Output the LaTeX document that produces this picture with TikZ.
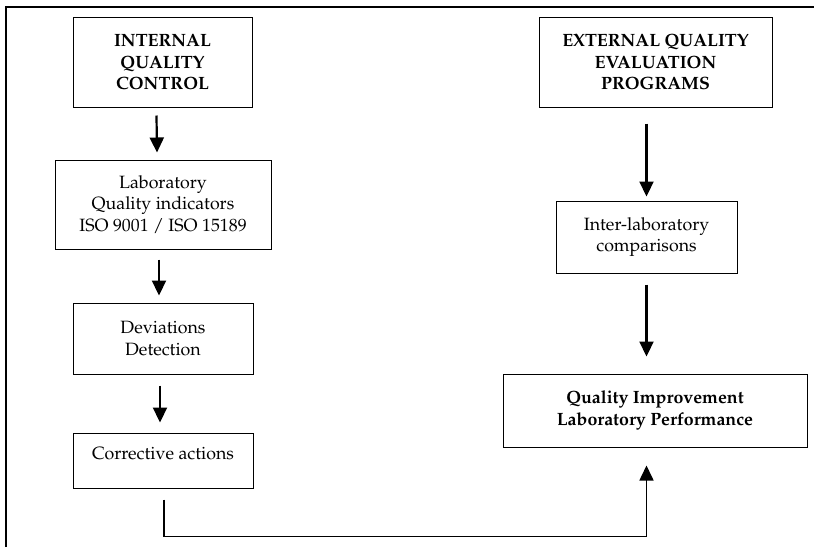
\documentclass[tikz,border=0pt]{standalone}
\usepackage[T1]{fontenc}
\usepackage{mathpazo}
\usepackage{tikz}
\usetikzlibrary{arrows.meta}
\usetikzlibrary{calc}
\tikzstyle{box} = [draw=black,line width=0.5pt,align=center,inner sep=2pt,font=\fontsize{8.9}{10.8}\selectfont]
\tikzstyle{arrow} = [line width=1.1pt,-{Triangle[width=7pt,length=7.5pt]}]

\begin{document}
\begin{tikzpicture}[x=0.5pt,y=-0.5pt]

\useasboundingbox (0,0) rectangle (814,547);

% Frame
\draw[line width=1.1pt] (6,547) -- (6,7) -- (814,7);

% Internal side
\node[box,minimum width=89.5pt,minimum height=45pt] (iqc) at (162.5,62) {\textbf{INTERNAL}\\\textbf{QUALITY}\\\textbf{CONTROL}};
\node[box,minimum width=108pt,minimum height=44.5pt] (lab) at (163,204.5) {Laboratory\\Quality indicators\\ISO 9001 / ISO 15189};
\node[box,minimum width=90pt,minimum height=35.5pt] (dev) at (163,338.5) {Deviations\\Detection};
\node[box,minimum width=90pt,minimum height=27.5pt,text depth=7pt] (corr) at (163,460.5) {Corrective actions};

% External side
\node[box,minimum width=116.5pt,minimum height=45pt] (eqe) at (655.5,62) {\textbf{EXTERNAL QUALITY}\\\textbf{EVALUATION}\\\textbf{PROGRAMS}};
\node[box,minimum width=90.5pt,minimum height=36pt] (inter) at (646.5,237) {Inter-laboratory\\comparisons};
\node[box,minimum width=152pt,minimum height=36.5pt] (qi) at (655,410.5) {\textbf{Quality Improvement}\\\textbf{Laboratory Performance}};

% Arrows
\draw[arrow] ([shift={(-3pt,-4pt)}]iqc.south) -- ([shift={(-3pt,3.5pt)}]lab.north);
\draw[arrow] ([shift={(-2pt,-5pt)}]lab.south) -- ([shift={(-2pt,3.5pt)}]dev.north);
\draw[arrow] ([shift={(-1.5pt,-5.5pt)}]dev.south) -- ([shift={(-1.5pt,5pt)}]corr.north);
\draw[arrow] ([yshift=-8pt]eqe.south -| inter.north) -- ([yshift=2pt]inter.north);
\draw[arrow] ([yshift=-5.5pt]inter.south) -- ([yshift=8.5pt]inter.south |- qi.north);

% Feedback
\draw[arrow,line width=0.8pt] ([shift={(0.5pt,-5.5pt)}]corr.south) -- ++(0,37) -| ([yshift=-9pt]inter.south |- qi.south);

\end{tikzpicture}
\end{document}
